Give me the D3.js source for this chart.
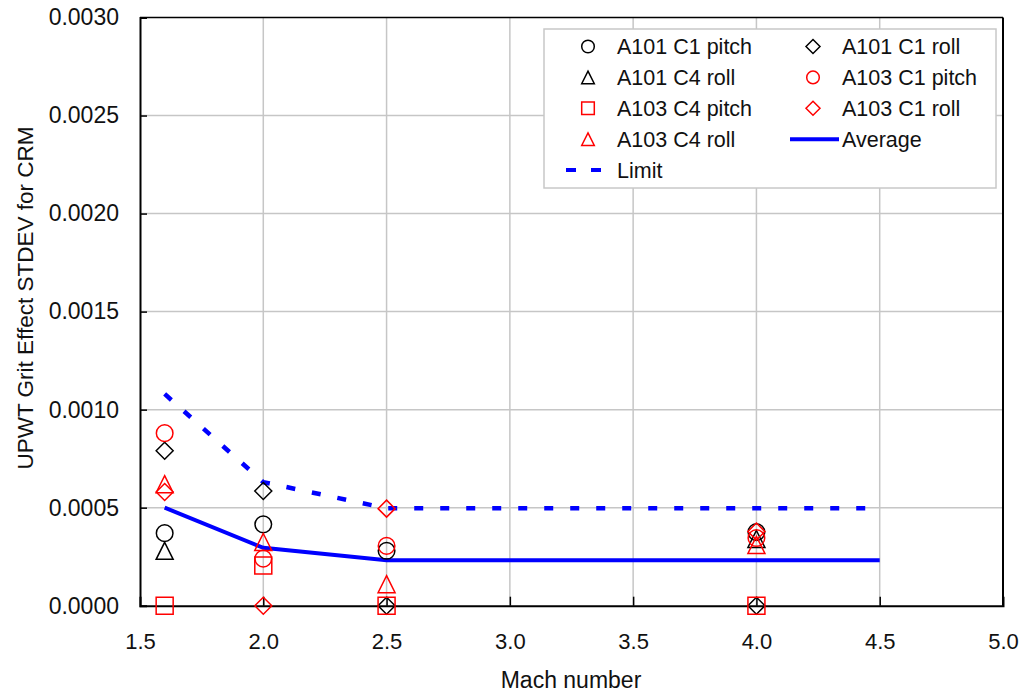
<!DOCTYPE html>
<html>
<head>
<meta charset="utf-8">
<script src="https://cdn.jsdelivr.net/npm/d3@7"></script>
<style>
  html, body { margin: 0; padding: 0; background: #fff; }
  svg { display: block; font-family: "Liberation Sans", Arial, sans-serif; }
</style>
</head>
<body>
<svg id="chart" width="1024" height="696"></svg>
<script>
// ---- data ----
const machPoints = [1.6, 2.0, 2.5, 4.0];
const a101C1Pitch = [0.00037, 0.000415, 0.00028, 0.000375];
const a101C1Roll  = [0.00079, 0.000585, 0.0, 0.0];
const a101C4Roll  = [0.00028, null, null, 0.00034];
const a103C1Pitch = [0.00088, 0.00024, 0.000305, 0.000345];
const a103C4Pitch = [0.0, 0.000205, 0.0, 0.0];
const a103C1Roll  = [0.00058, 0.0, 0.000495, 0.000378];
const a103C4Roll  = [0.00062, 0.000325, 0.00011, 0.00031];
const lineMach    = [1.6, 2.0, 2.5, 4.5];
const averageVals = [0.0005, 0.000295, 0.000232, 0.000232];
const limitVals   = [0.00108, 0.00063, 0.000497, 0.000497];
const xTicks = [1.5, 2.0, 2.5, 3.0, 3.5, 4.0, 4.5, 5.0];
const yTicks = [0, 0.0005, 0.001, 0.0015, 0.002, 0.0025, 0.003];
const seriesNames = ["A101 C1 pitch", "A101 C1 roll", "A101 C4 roll", "A103 C1 pitch",
                     "A103 C4 pitch", "A103 C1 roll", "A103 C4 roll", "Average", "Limit"];

// ---- setup ----
const svg = d3.select("#chart");
const L = 140, R = 1003, T = 17.5, B = 605.7;
const x = d3.scaleLinear().domain([1.5, 5.0]).range([L, R]);
const y = d3.scaleLinear().domain([0, 0.003]).range([B, T]);

const markerSeries = [
  { name: seriesNames[0], vals: a101C1Pitch, shape: "circle",   color: "#000" },
  { name: seriesNames[1], vals: a101C1Roll,  shape: "diamond",  color: "#000" },
  { name: seriesNames[2], vals: a101C4Roll,  shape: "triangle", color: "#000" },
  { name: seriesNames[3], vals: a103C1Pitch, shape: "circle",   color: "#ff0000" },
  { name: seriesNames[4], vals: a103C4Pitch, shape: "square",   color: "#ff0000" },
  { name: seriesNames[5], vals: a103C1Roll,  shape: "diamond",  color: "#ff0000" },
  { name: seriesNames[6], vals: a103C4Roll,  shape: "triangle", color: "#ff0000" }
];

function shapePath(shape, h) {
  const p = d3.path();
  if (shape === "circle") {
    p.arc(0, 0, h, 0, 2 * Math.PI); p.closePath();
  } else if (shape === "square") {
    p.rect(-h, -h, 2 * h, 2 * h);
  } else if (shape === "diamond") {
    p.moveTo(0, -h); p.lineTo(h, 0); p.lineTo(0, h); p.lineTo(-h, 0); p.closePath();
  } else if (shape === "triangle") {
    p.moveTo(0, -h); p.lineTo(h, h); p.lineTo(-h, h); p.closePath();
  }
  return p.toString();
}

// ---- gridlines ----
const grid = svg.append("g").attr("stroke", "#c6c6c6").attr("stroke-width", 1.5);
xTicks.filter(t => t > 1.5 && t < 5.0).forEach(t => {
  grid.append("line").attr("x1", x(t)).attr("x2", x(t)).attr("y1", T).attr("y2", B);
});
yTicks.filter(t => t > 0 && t < 0.003).forEach(t => {
  grid.append("line").attr("x1", L).attr("x2", R).attr("y1", y(t)).attr("y2", y(t));
});

// ---- frame (top/right) ----
svg.append("line").attr("x1", L).attr("x2", R).attr("y1", T).attr("y2", T)
  .attr("stroke", "#000").attr("stroke-width", 1.5);
svg.append("line").attr("x1", R).attr("x2", R).attr("y1", T).attr("y2", B)
  .attr("stroke", "#000").attr("stroke-width", 2);

// ---- axes ----
const minorX = d3.range(15, 51).map(v => v / 10).filter(v => !xTicks.some(t => Math.abs(t - v) < 1e-9));
const minorY = d3.range(0, 31).map(v => v / 10000).filter(v => !yTicks.some(t => Math.abs(t - v) < 1e-9));

const gx = svg.append("g").attr("transform", `translate(0,${B})`);
gx.call(d3.axisBottom(x).tickValues(minorX).tickSize(-6).tickFormat(""));
gx.call(d3.axisBottom(x).tickValues(xTicks).tickSize(-9).tickPadding(28).tickFormat(d3.format(".1f")));
gx.selectAll(".domain").attr("stroke", "#000").attr("stroke-width", 2);
gx.selectAll(".tick line").attr("stroke", "#000").attr("stroke-width", 1.5);
gx.selectAll("text").attr("font-size", 22).attr("fill", "#111").attr("font-family", "Liberation Sans, Arial, sans-serif");
gx.selectAll(".tick").filter(d => d === 1.5 || d === 5.0).select("line").remove();

const gy = svg.append("g").attr("transform", `translate(${L},0)`);
gy.call(d3.axisLeft(y).tickValues(minorY).tickSize(-5).tickFormat(""));
gy.call(d3.axisLeft(y).tickValues(yTicks).tickSize(-7).tickPadding(21).tickFormat(d3.format(".4f")));
gy.selectAll(".domain").attr("stroke", "#000").attr("stroke-width", 2);
gy.selectAll(".tick line").attr("stroke", "#000").attr("stroke-width", 1.5);
gy.selectAll("text").attr("font-size", 23).attr("fill", "#111").attr("font-family", "Liberation Sans, Arial, sans-serif");
gy.selectAll(".tick").filter(d => d === 0 || d === 0.003).select("line").remove();

// ---- axis titles ----
svg.append("text").attr("x", 571).attr("y", 688)
  .attr("text-anchor", "middle").attr("font-size", 23).attr("fill", "#111")
  .text("Mach number");
svg.append("text").attr("transform", "translate(33,298) rotate(-90)")
  .attr("text-anchor", "middle").attr("font-size", 22.5).attr("fill", "#111")
  .text("UPWT Grit Effect STDEV for CRM");

// ---- lines ----
const lineGen = d3.line().x((d, i) => x(lineMach[i])).y(d => y(d));
svg.append("path").attr("d", lineGen(limitVals))
  .attr("fill", "none").attr("stroke", "#0000ff").attr("stroke-width", 4.5)
  .attr("stroke-dasharray", "9,17");
svg.append("path").attr("d", lineGen(averageVals))
  .attr("fill", "none").attr("stroke", "#0000ff").attr("stroke-width", 4);

// ---- markers ----
markerSeries.forEach(s => {
  const g = svg.append("g");
  s.vals.forEach((v, i) => {
    if (v === null) return;
    g.append("path")
      .attr("d", shapePath(s.shape, s.shape === "circle" ? 8.3 : 8.5))
      .attr("transform", `translate(${x(machPoints[i])},${y(v)})`)
      .attr("fill", "none").attr("stroke", s.color).attr("stroke-width", 1.5);
  });
});

// ---- legend ----
const lg = svg.append("g");
lg.append("rect").attr("x", 544).attr("y", 29).attr("width", 452).attr("height", 159)
  .attr("fill", "#fff").attr("stroke", "#c8c8c8").attr("stroke-width", 1.5);
const colSym = [588, 813], colText = [617, 842];
seriesNames.forEach((name, i) => {
  const row = Math.floor(i / 2), col = i % 2;
  const cy = 46.5 + row * 30.9;
  if (i < 7) {
    const s = markerSeries[i];
    lg.append("path").attr("d", shapePath(s.shape, s.shape === "diamond" ? 7 : 6.3))
      .attr("transform", `translate(${colSym[col]},${cy})`)
      .attr("fill", "none").attr("stroke", s.color).attr("stroke-width", 1.5);
  } else if (name === "Average") {
    lg.append("line").attr("x1", 790).attr("x2", 839).attr("y1", cy).attr("y2", cy)
      .attr("stroke", "#0000ff").attr("stroke-width", 4);
  } else {
    lg.append("line").attr("x1", 566).attr("x2", 601).attr("y1", cy).attr("y2", cy)
      .attr("stroke", "#0000ff").attr("stroke-width", 4).attr("stroke-dasharray", "10,15");
  }
  lg.append("text").attr("x", colText[col]).attr("y", cy).attr("dy", "0.35em")
    .attr("font-size", 21.5).attr("fill", "#111").text(name);
});
</script>
</body>
</html>
